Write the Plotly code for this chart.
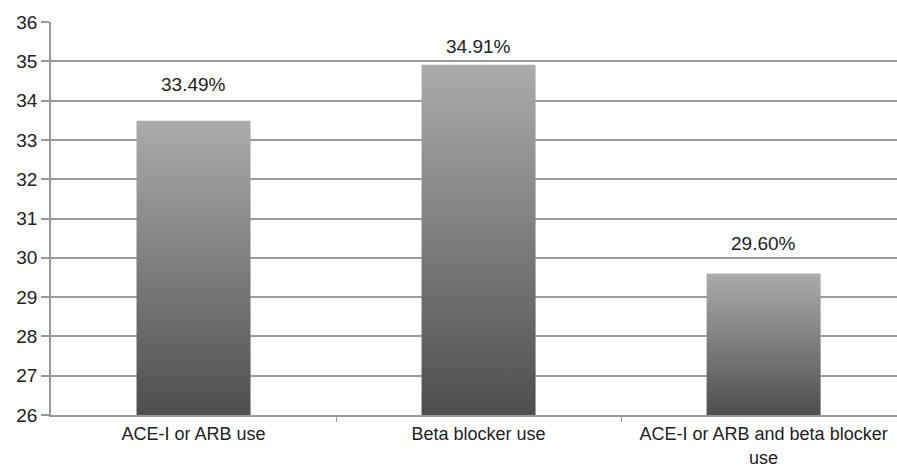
import plotly.graph_objects as go

categories = ["ACE-I or ARB use", "Beta blocker use", "ACE-I or ARB and beta blocker<br>use"]
values = [33.49, 34.91, 29.60]
value_labels = ["33.49%", "34.91%", "29.60%"]
label_shift = [36, 18, 30]
y_ticks = list(range(26, 37))

base = 26
half_w = 0.2

fig = go.Figure()
for i, v in enumerate(values):
    xs = [i - half_w, i + half_w, i + half_w, i - half_w, i - half_w]
    ys = [base, base, v, v, base]
    fig.add_trace(go.Scatter(
        x=xs, y=ys, mode="lines", fill="toself",
        line=dict(width=0, color="rgba(0,0,0,0)"),
        fillgradient=dict(type="vertical",
                          colorscale=[[0, "#4e4e50"], [0.5, "#7d7d80"], [1, "#ababae"]]),
        showlegend=False, hoverinfo="skip",
    ))
    fig.add_annotation(x=i, y=v, text=value_labels[i], showarrow=False,
                       yanchor="middle", yshift=label_shift[i],
                       font=dict(family="Liberation Sans, Arial", size=19, color="#222"))

fig.update_layout(
    width=897, height=467,
    margin=dict(l=51, r=0, t=22, b=52),
    plot_bgcolor="white", paper_bgcolor="white",
    showlegend=False,
)
fig.update_xaxes(
    range=[-0.5, 2.468], automargin=False,
    tickmode="array", tickvals=[0, 1, 2], ticktext=categories,
    ticks="", showgrid=False, zeroline=False,
    showline=True, linecolor="#999", linewidth=1.5,
    tickfont=dict(family="Liberation Sans, Arial", size=18, color="#222"),
    ticklabelstandoff=2,
    minor=dict(tickmode="array", tickvals=[0.5, 1.5], ticks="outside",
               ticklen=5, tickcolor="#999", tickwidth=1, showgrid=False),
)
fig.update_yaxes(
    range=[26, 36], tickmode="array", tickvals=y_ticks, automargin=False,
    showgrid=True, gridcolor="#9c9c9c", gridwidth=1.5, zeroline=False,
    showline=True, linecolor="#999", linewidth=1.5,
    ticks="outside", ticklen=8, tickcolor="#999", tickwidth=1.5,
    tickfont=dict(family="Liberation Sans, Arial", size=19, color="#222"),
)

fig.write_html("out.html")
